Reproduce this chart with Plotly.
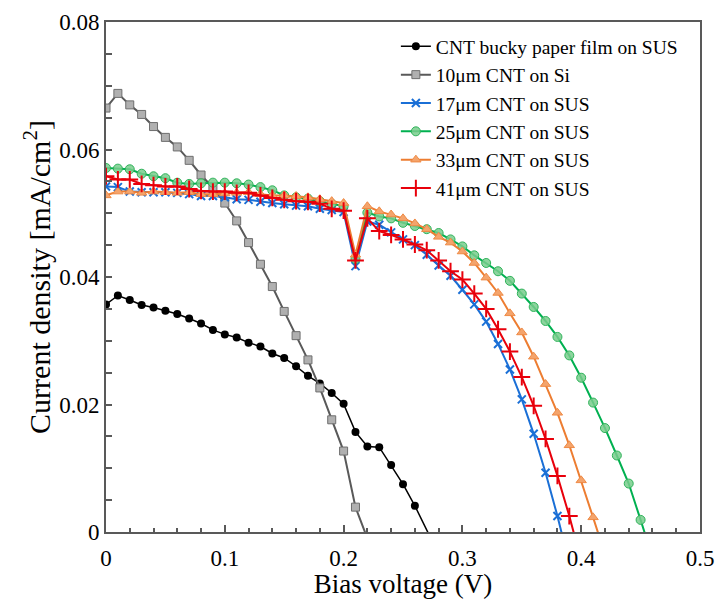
import plotly.graph_objects as go

# ---------------- data ----------------
x_bucky = [0, 0.01, 0.02, 0.03, 0.04, 0.05, 0.06, 0.07, 0.08, 0.09, 0.10, 0.11, 0.12, 0.13,
           0.14, 0.15, 0.16, 0.17, 0.18, 0.19, 0.20, 0.21, 0.22, 0.23, 0.24, 0.25, 0.26, 0.28]
j_bucky = [0.0357, 0.0371, 0.0364, 0.0356, 0.0352, 0.0347, 0.0342, 0.0335, 0.0327, 0.0317,
           0.0310, 0.0305, 0.0297, 0.0291, 0.0280, 0.0273, 0.0260, 0.0245, 0.0233, 0.0218,
           0.0201, 0.0157, 0.0134, 0.0133, 0.0105, 0.0075, 0.0041, -0.0035]

x_si = [0, 0.01, 0.02, 0.03, 0.04, 0.05, 0.06, 0.07, 0.08, 0.09, 0.10, 0.11, 0.12, 0.13,
        0.14, 0.15, 0.16, 0.17, 0.18, 0.19, 0.20, 0.21, 0.22]
j_si = [0.0665, 0.0688, 0.0670, 0.0655, 0.0636, 0.0619, 0.0604, 0.0583, 0.0560, 0.0540,
        0.0516, 0.0488, 0.0454, 0.0420, 0.0385, 0.0346, 0.0308, 0.0270, 0.0226, 0.0176,
        0.0127, 0.0039, -0.0010]

x_17 = [i / 100 for i in range(0, 40)]
j_17 = [0.0542, 0.0541, 0.0534, 0.0533, 0.0533, 0.0533, 0.0532, 0.0530, 0.0527, 0.0527,
        0.0525, 0.0522, 0.0521, 0.0518, 0.0516, 0.0514, 0.0512, 0.0511, 0.0507, 0.0505,
        0.0502, 0.0417, 0.0487, 0.0482, 0.0470, 0.0459, 0.0450, 0.0435, 0.0418, 0.0402,
        0.0380, 0.0357, 0.0330, 0.0295, 0.0255, 0.0208, 0.0154, 0.0093, 0.0025, -0.0050]

x_25 = [i / 100 for i in range(0, 47)]
j_25 = [0.0571, 0.0570, 0.0569, 0.0562, 0.0558, 0.0555, 0.0548, 0.0546, 0.0547, 0.0548,
        0.0548, 0.0547, 0.0545, 0.0541, 0.0536, 0.0528, 0.0525, 0.0523, 0.0519, 0.0515,
        0.0511, 0.0428, 0.0501, 0.0495, 0.0492, 0.0485, 0.0480, 0.0475, 0.0469, 0.0459,
        0.0448, 0.0434, 0.0422, 0.0409, 0.0394, 0.0374, 0.0353, 0.0331, 0.0306, 0.0277,
        0.0242, 0.0203, 0.0163, 0.0120, 0.0076, 0.0019, -0.0040]

x_33 = [i / 100 for i in range(0, 43)]
j_33 = [0.0528, 0.0534, 0.0534, 0.0532, 0.0534, 0.0533, 0.0532, 0.0533, 0.0530, 0.0530,
        0.0531, 0.0532, 0.0533, 0.0530, 0.0528, 0.0528, 0.0527, 0.0525, 0.0522, 0.0519,
        0.0516, 0.0435, 0.0511, 0.0503, 0.0498, 0.0492, 0.0484, 0.0475, 0.0463, 0.0454,
        0.0440, 0.0422, 0.0399, 0.0375, 0.0343, 0.0313, 0.0275, 0.0232, 0.0187, 0.0136,
        0.0081, 0.0023, -0.0035]

x_41 = [i / 100 for i in range(0, 41)]
j_41 = [0.0558, 0.0553, 0.0553, 0.0546, 0.0544, 0.0542, 0.0542, 0.0538, 0.0535, 0.0534,
        0.0534, 0.0532, 0.0532, 0.0528, 0.0524, 0.0521, 0.0519, 0.0518, 0.0515, 0.0507,
        0.0504, 0.0426, 0.0492, 0.0472, 0.0466, 0.0459, 0.0451, 0.0442, 0.0426, 0.0409,
        0.0396, 0.0374, 0.0350, 0.0318, 0.0283, 0.0243, 0.0198, 0.0146, 0.0088, 0.0025,
        -0.0045]

names = ["CNT bucky paper film on SUS", "10\u03bcm CNT on Si", "17\u03bcm CNT on SUS",
         "25\u03bcm CNT on SUS", "33\u03bcm CNT on SUS", "41\u03bcm CNT on SUS"]

x_ticks = [0, 0.1, 0.2, 0.3, 0.4, 0.5]
y_ticks = [0, 0.02, 0.04, 0.06, 0.08]

# ---------------- figure ----------------
FONT = "'Liberation Serif', 'Times New Roman', Times, serif"
AX = "#595959"

fig = go.Figure()

fig.add_trace(go.Scatter(x=x_bucky, y=j_bucky, name=names[0], mode="lines+markers",
                         line=dict(color="black", width=1.5),
                         marker=dict(symbol="circle", size=8, color="black")))
fig.add_trace(go.Scatter(x=x_si, y=j_si, name=names[1], mode="lines+markers",
                         line=dict(color="#595959", width=2),
                         marker=dict(symbol="square", size=8, color="#b0b0b0",
                                     line=dict(color="#6e6e6e", width=1))))
fig.add_trace(go.Scatter(x=x_17, y=j_17, name=names[2], mode="lines+markers",
                         line=dict(color="#1a6fd6", width=2),
                         marker=dict(symbol="x-thin-open", size=8,
                                     line=dict(color="#44546a", width=2))))
fig.add_trace(go.Scatter(x=x_25, y=j_25, name=names[3], mode="lines+markers",
                         line=dict(color="#00b050", width=2),
                         marker=dict(symbol="circle", size=9, color="rgba(120,205,140,0.85)",
                                     line=dict(color="#2fb35a", width=1))))
fig.add_trace(go.Scatter(x=x_33, y=j_33, name=names[4], mode="lines+markers",
                         line=dict(color="#ed7d31", width=2),
                         marker=dict(symbol="triangle-up", size=9, color="#f4a46c",
                                     line=dict(color="#ef8a45", width=1))))
fig.add_trace(go.Scatter(x=x_41, y=j_41, name=names[5], mode="lines+markers",
                         line=dict(color="#e8000b", width=2),
                         marker=dict(symbol="cross-thin-open", size=12,
                                     line=dict(color="#e8000b", width=2))))

fig.update_layout(
    width=717, height=599,
    margin=dict(l=106, r=17, t=22, b=67, autoexpand=False),
    paper_bgcolor="white", plot_bgcolor="white",
    font=dict(family=FONT, color="black", size=20),
    showlegend=True,
    legend=dict(x=0.488, y=0.99, xanchor="left", yanchor="top",
                bgcolor="rgba(0,0,0,0)", font=dict(family=FONT, size=19.5, color="black"),
                tracegroupgap=0, itemwidth=30),
    xaxis=dict(range=[0, 0.5], tickvals=x_ticks, ticktext=[str(v) for v in x_ticks],
               automargin=False,
               showgrid=False, zeroline=False,
               showline=True, linecolor=AX, linewidth=2, mirror=True,
               ticks="inside", ticklen=7, tickwidth=1.5, tickcolor=AX,
               minor=dict(dtick=0.02, ticks="inside", ticklen=4, tickwidth=1.5, tickcolor=AX),
               tickfont=dict(family=FONT, size=23, color="black"),
               ticklabelstandoff=4,
               title=dict(text="Bias voltage (V)", font=dict(family=FONT, size=27, color="black"),
                          standoff=0)),
    yaxis=dict(range=[0, 0.08], tickvals=y_ticks, ticktext=[str(v) if v else "0" for v in y_ticks],
               automargin=False,
               showgrid=False, zeroline=False,
               showline=True, linecolor=AX, linewidth=2, mirror=True,
               ticks="inside", ticklen=6, tickwidth=1.5, tickcolor=AX,
               minor=dict(dtick=0.005, ticks="inside", ticklen=6, tickwidth=1.5, tickcolor=AX),
               tickfont=dict(family=FONT, size=23, color="black"),
               title=dict(text="Current density [mA/cm<sup>2</sup>]",
                          font=dict(family=FONT, size=30, color="black"), standoff=0)),
)

fig.write_html("out.html", config={"displayModeBar": False},
               post_script="document.body.style.margin='0px';")
